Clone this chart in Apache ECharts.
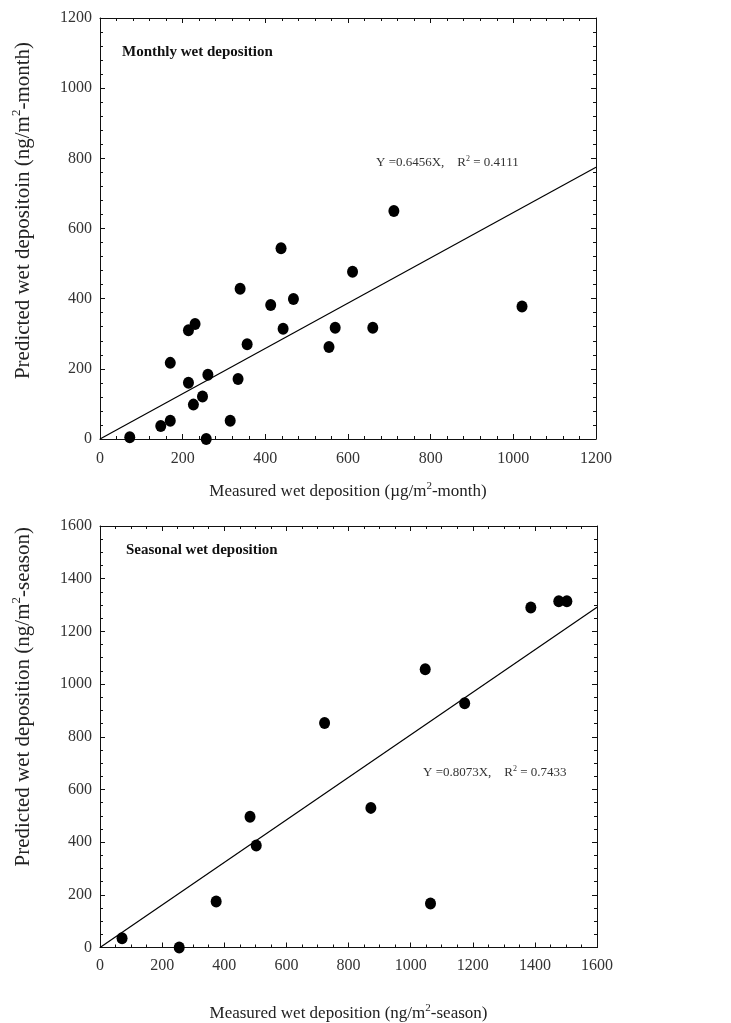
<!DOCTYPE html>
<html>
<head>
<meta charset="utf-8">
<script src="https://cdn.jsdelivr.net/npm/echarts@6/dist/echarts.min.js"></script>
<style>
    html, body {margin: 0; padding: 0; background: #fff;}
    #main {width: 731px; height: 1023px;}
</style>
</head>
<body>
<div id="main"></div>
<script>
// monthly wet deposition: measured (x) vs predicted (y)
var monthlyPoints = [
    [72, 5], [147, 37], [170, 52], [170, 217], [214, 160], [214, 310],
    [230, 328], [226, 98], [248, 121], [261, 183], [257, 0], [315, 52],
    [334, 171], [339, 428], [356, 270], [413, 382], [438, 544], [443, 314],
    [468, 399], [554, 262], [569, 317], [611, 477], [660, 317], [711, 650],
    [1021, 378]
];
var monthlyFit = [[0, 0], [1200, 774.7]];

// seasonal wet deposition
var seasonalPoints = [
    [71, 35], [255, 0], [374, 175], [483, 496], [503, 387], [723, 852],
    [872, 530], [1047, 1056], [1064, 167], [1174, 927], [1387, 1291],
    [1477, 1314], [1503, 1314]
];
var seasonalFit = [[0, 0], [1600, 1291.7]];

var serif = 'Liberation Serif';

function supStyle(size) {
    return {fontSize: size, verticalAlign: 'top', fontFamily: serif, color: '#222', lineHeight: size * 2};
}

function makeX(grid, max, interval, minorSplit, name, pos, labelMargin, nameGap) {
    var show = pos === 'bottom';
    return {
        type: 'value', gridIndex: grid, position: pos, min: 0, max: max, interval: interval,
        name: show ? name : '',
        nameLocation: 'middle',
        nameGap: nameGap,
        nameTextStyle: {fontFamily: serif, fontSize: 17, color: '#222', rich: {sup: supStyle(11)}},
        axisLine: {show: true, onZero: false, lineStyle: {color: '#111', width: 1}},
        axisTick: {show: true, inside: true, length: 5, lineStyle: {color: '#111'}},
        minorTick: {show: true, splitNumber: minorSplit, length: 3, lineStyle: {color: '#111'}},
        axisLabel: {show: show, margin: labelMargin, fontFamily: serif, fontSize: 16, color: '#333',
            formatter: function (v) { return String(v); }},
        splitLine: {show: false}
    };
}

function makeY(grid, max, interval, minorSplit, name, pos, shift) {
    var show = pos === 'left';
    return {
        type: 'value', gridIndex: grid, position: pos, min: 0, max: max, interval: interval,
        name: show ? name : '',
        nameLocation: 'middle',
        nameGap: 64,
        nameRotate: 90,
        nameTextStyle: {fontFamily: serif, fontSize: 21, color: '#222', rich: {sup: supStyle(13)},
            padding: [0, 0, 0, shift]},
        axisLine: {show: true, onZero: false, lineStyle: {color: '#111', width: 1}},
        axisTick: {show: true, inside: true, length: 5, lineStyle: {color: '#111'}},
        minorTick: {show: true, splitNumber: minorSplit, length: 3, lineStyle: {color: '#111'}},
        axisLabel: {show: show, margin: 8, fontFamily: serif, fontSize: 16, color: '#333',
            formatter: function (v) { return String(v); }},
        splitLine: {show: false}
    };
}

var chart = echarts.init(document.getElementById('main'));

var eqRich = {sup: {fontSize: 8, verticalAlign: 'top', fontFamily: serif, color: '#333', lineHeight: 16}};

var option = {
    animation: false,
    backgroundColor: '#fff',
    title: [
        {text: 'Monthly wet deposition', left: 122, top: 45, padding: 0,
            textStyle: {fontFamily: serif, fontSize: 15, fontWeight: 'bold', color: '#111'}},
        {text: 'Y =0.6456X,    R{sup|2} = 0.4111', left: 376, top: 155, padding: 0,
            textStyle: {fontFamily: serif, fontSize: 13, fontWeight: 'normal', color: '#333', rich: eqRich}},
        {text: 'Seasonal wet deposition', left: 126, top: 543, padding: 0,
            textStyle: {fontFamily: serif, fontSize: 15, fontWeight: 'bold', color: '#111'}},
        {text: 'Y =0.8073X,    R{sup|2} = 0.7433', left: 423, top: 765, padding: 0,
            textStyle: {fontFamily: serif, fontSize: 13, fontWeight: 'normal', color: '#333', rich: eqRich}}
    ],
    grid: [
        {left: 100, top: 18, width: 496, height: 421},
        {left: 100, top: 526, width: 497, height: 422}
    ],
    xAxis: [
        makeX(0, 1200, 200, 5, 'Measured wet deposition (\u00b5g/m{sup|2}-month)', 'bottom', 12, 42),
        makeX(0, 1200, 200, 5, '', 'top', 12, 42),
        makeX(1, 1600, 200, 4, 'Measured wet deposition (ng/m{sup|2}-season)', 'bottom', 10, 55),
        makeX(1, 1600, 200, 4, '', 'top', 10, 55)
    ],
    yAxis: [
        makeY(0, 1200, 200, 5, 'Predicted wet depositoin (ng/m{sup|2}-month)', 'left', 36),
        makeY(0, 1200, 200, 5, '', 'right', 0),
        makeY(1, 1600, 200, 4, 'Predicted wet deposition (ng/m{sup|2}-season)', 'left', 80),
        makeY(1, 1600, 200, 4, '', 'right', 0)
    ],
    series: [
        {
            type: 'line', xAxisIndex: 0, yAxisIndex: 0, data: monthlyFit,
            symbol: 'none', lineStyle: {color: '#000', width: 1.2}, z: 2
        },
        {
            type: 'scatter', xAxisIndex: 0, yAxisIndex: 0, data: monthlyPoints,
            symbol: 'circle', symbolSize: [11, 12], itemStyle: {color: '#000', opacity: 1}, z: 3
        },
        {
            type: 'line', xAxisIndex: 2, yAxisIndex: 2, data: seasonalFit,
            symbol: 'none', lineStyle: {color: '#000', width: 1.2}, z: 2
        },
        {
            type: 'scatter', xAxisIndex: 2, yAxisIndex: 2, data: seasonalPoints,
            symbol: 'circle', symbolSize: [11, 12], itemStyle: {color: '#000', opacity: 1}, z: 3
        }
    ]
};

chart.setOption(option);
</script>
</body>
</html>
